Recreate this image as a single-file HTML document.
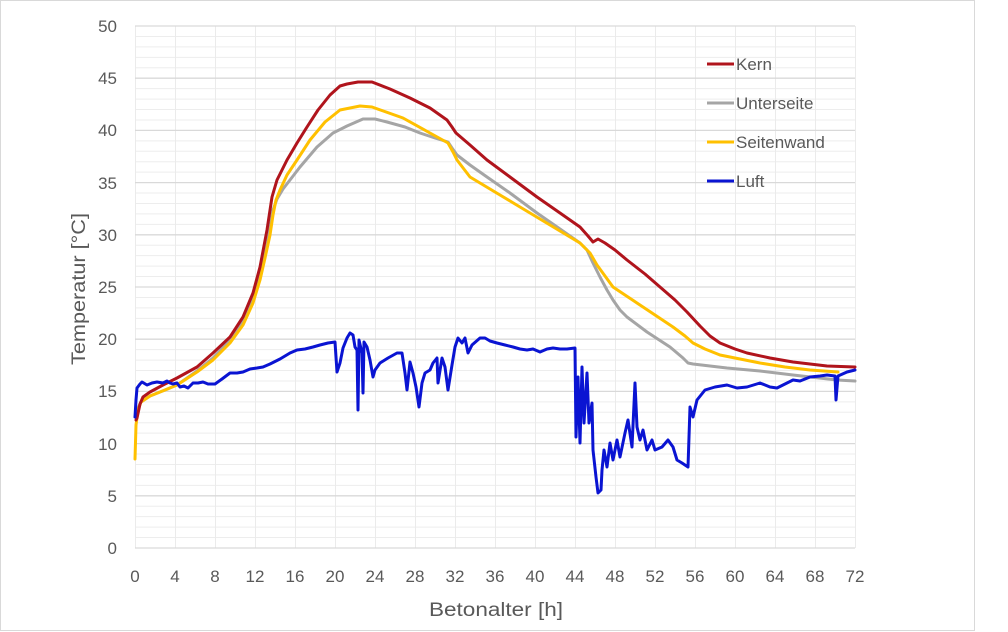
<!DOCTYPE html>
<html>
<head>
<meta charset="utf-8">
<style>
html,body{margin:0;padding:0;background:#fff;}
svg{display:block;}
text{font-family:"Liberation Sans",sans-serif;fill:#595959;}
</style>
</head>
<body>
<svg width="1008" height="632" viewBox="0 0 1008 632" xmlns="http://www.w3.org/2000/svg">
<rect x="0" y="0" width="1008" height="632" fill="#fff"/>
<rect x="0.5" y="0.5" width="974" height="630" fill="#fff" stroke="#D9D9D9" stroke-width="1"/>

<!-- minor horizontal gridlines -->
<g stroke="#EDEDED" stroke-width="1">
<line x1="135" x2="855" y1="537.56" y2="537.56"/><line x1="135" x2="855" y1="527.12" y2="527.12"/><line x1="135" x2="855" y1="516.68" y2="516.68"/><line x1="135" x2="855" y1="506.24" y2="506.24"/>
<line x1="135" x2="855" y1="485.36" y2="485.36"/><line x1="135" x2="855" y1="474.92" y2="474.92"/><line x1="135" x2="855" y1="464.48" y2="464.48"/><line x1="135" x2="855" y1="454.04" y2="454.04"/>
<line x1="135" x2="855" y1="433.16" y2="433.16"/><line x1="135" x2="855" y1="422.72" y2="422.72"/><line x1="135" x2="855" y1="412.28" y2="412.28"/><line x1="135" x2="855" y1="401.84" y2="401.84"/>
<line x1="135" x2="855" y1="380.96" y2="380.96"/><line x1="135" x2="855" y1="370.52" y2="370.52"/><line x1="135" x2="855" y1="360.08" y2="360.08"/><line x1="135" x2="855" y1="349.64" y2="349.64"/>
<line x1="135" x2="855" y1="328.76" y2="328.76"/><line x1="135" x2="855" y1="318.32" y2="318.32"/><line x1="135" x2="855" y1="307.88" y2="307.88"/><line x1="135" x2="855" y1="297.44" y2="297.44"/>
<line x1="135" x2="855" y1="276.56" y2="276.56"/><line x1="135" x2="855" y1="266.12" y2="266.12"/><line x1="135" x2="855" y1="255.68" y2="255.68"/><line x1="135" x2="855" y1="245.24" y2="245.24"/>
<line x1="135" x2="855" y1="224.36" y2="224.36"/><line x1="135" x2="855" y1="213.92" y2="213.92"/><line x1="135" x2="855" y1="203.48" y2="203.48"/><line x1="135" x2="855" y1="193.04" y2="193.04"/>
<line x1="135" x2="855" y1="172.16" y2="172.16"/><line x1="135" x2="855" y1="161.72" y2="161.72"/><line x1="135" x2="855" y1="151.28" y2="151.28"/><line x1="135" x2="855" y1="140.84" y2="140.84"/>
<line x1="135" x2="855" y1="119.96" y2="119.96"/><line x1="135" x2="855" y1="109.52" y2="109.52"/><line x1="135" x2="855" y1="99.08" y2="99.08"/><line x1="135" x2="855" y1="88.64" y2="88.64"/>
<line x1="135" x2="855" y1="67.76" y2="67.76"/><line x1="135" x2="855" y1="57.32" y2="57.32"/><line x1="135" x2="855" y1="46.88" y2="46.88"/><line x1="135" x2="855" y1="36.44" y2="36.44"/>
</g>
<!-- vertical gridlines -->
<g stroke="#EBEBEB" stroke-width="1">
<line x1="135.5" x2="135.5" y1="26" y2="548"/><line x1="175.5" x2="175.5" y1="26" y2="548"/><line x1="215.5" x2="215.5" y1="26" y2="548"/><line x1="255.5" x2="255.5" y1="26" y2="548"/>
<line x1="295.5" x2="295.5" y1="26" y2="548"/><line x1="335.5" x2="335.5" y1="26" y2="548"/><line x1="375.5" x2="375.5" y1="26" y2="548"/><line x1="415.5" x2="415.5" y1="26" y2="548"/>
<line x1="455.5" x2="455.5" y1="26" y2="548"/><line x1="495.5" x2="495.5" y1="26" y2="548"/><line x1="535.5" x2="535.5" y1="26" y2="548"/><line x1="575.5" x2="575.5" y1="26" y2="548"/>
<line x1="615.5" x2="615.5" y1="26" y2="548"/><line x1="655.5" x2="655.5" y1="26" y2="548"/><line x1="695.5" x2="695.5" y1="26" y2="548"/><line x1="735.5" x2="735.5" y1="26" y2="548"/>
<line x1="775.5" x2="775.5" y1="26" y2="548"/><line x1="815.5" x2="815.5" y1="26" y2="548"/><line x1="855.5" x2="855.5" y1="26" y2="548"/>
</g>
<!-- major horizontal gridlines -->
<g stroke="#D9D9D9" stroke-width="1.3">
<line x1="135" x2="855" y1="548" y2="548"/><line x1="135" x2="855" y1="495.8" y2="495.8"/><line x1="135" x2="855" y1="443.6" y2="443.6"/><line x1="135" x2="855" y1="391.4" y2="391.4"/>
<line x1="135" x2="855" y1="339.2" y2="339.2"/><line x1="135" x2="855" y1="287" y2="287"/><line x1="135" x2="855" y1="234.8" y2="234.8"/><line x1="135" x2="855" y1="182.6" y2="182.6"/>
<line x1="135" x2="855" y1="130.4" y2="130.4"/><line x1="135" x2="855" y1="78.2" y2="78.2"/><line x1="135" x2="855" y1="26" y2="26"/>
</g>

<!-- y tick labels -->
<g font-size="17" text-anchor="end">
<text x="117" y="554">0</text><text x="117" y="502">5</text><text x="117" y="450">10</text><text x="117" y="397">15</text>
<text x="117" y="345">20</text><text x="117" y="293">25</text><text x="117" y="241">30</text><text x="117" y="189">35</text>
<text x="117" y="136">40</text><text x="117" y="84">45</text><text x="117" y="32">50</text>
</g>
<!-- x tick labels -->
<g font-size="17" text-anchor="middle">
<text x="135" y="582">0</text><text x="175" y="582">4</text><text x="215" y="582">8</text><text x="255" y="582">12</text>
<text x="295" y="582">16</text><text x="335" y="582">20</text><text x="375" y="582">24</text><text x="415" y="582">28</text>
<text x="455" y="582">32</text><text x="495" y="582">36</text><text x="535" y="582">40</text><text x="575" y="582">44</text>
<text x="615" y="582">48</text><text x="655" y="582">52</text><text x="695" y="582">56</text><text x="735" y="582">60</text>
<text x="775" y="582">64</text><text x="815" y="582">68</text><text x="855" y="582">72</text>
</g>

<text x="429" y="616" font-size="19" textLength="134" lengthAdjust="spacingAndGlyphs">Betonalter [h]</text>
<text transform="translate(85,365) rotate(-90)" font-size="19" textLength="152" lengthAdjust="spacingAndGlyphs">Temperatur [°C]</text>

<!-- series -->
<g fill="none" stroke-width="3" stroke-linejoin="round" stroke-linecap="round">
<polyline stroke="#A5A5A5" points="136,415 138,408 141,402 150,396 165,390 177,385 197,371 213,358 230,340 243,322 253,300 260,277 265,255 269,235 273,210 277,199 283,189 290,180 300,167 317,147 333,133 347,126 363,119 375,119 387,122 405,127 420,133 435,138 448,142 452,148 457,155 470,165 487,177 510,193 537,213 560,229 580,243 587,250 593,263 600,277 607,290 613,300 620,310 627,317 647,332 670,347 683,358 688,363 693,364 727,368 760,371 793,375 837,380 855,381"/>
<polyline stroke="#FFC000" points="135,459 136,425 138,410 141,402 150,396 165,390 177,385 197,372 213,360 230,343 243,325 253,303 260,280 265,258 270,235 273,215 276,200 280,190 287,175 297,160 310,140 325,122 340,110 360,106 372,107 403,118 430,133 448,143 453,152 457,160 470,177 495,192 520,207 550,225 580,243 590,253 597,265 605,276 613,287 628,297 643,307 658,317 673,327 685,336 693,343 705,349 720,355 740,359 760,363 785,367 810,370 838,372"/>
<polyline stroke="#B0141C" points="136,420 137,418 140,404 143,397 150,392 163,385 177,378 197,367 213,353 230,337 243,317 253,293 260,267 267,230 272,197 277,180 287,160 297,143 307,127 318,110 330,95 340,86 347,84 358,82 372,82 390,89 410,98 430,108 447,120 452,127 456,133 470,145 487,160 510,177 537,197 560,213 580,227 588,236 593,242 598,239 605,243 615,250 627,260 645,274 660,287 675,300 687,312 700,326 710,336 720,343 735,349 747,353 770,358 793,362 827,366 855,367"/>
<polyline stroke="#0A14D2" points="135,417 136,400 137,388 140,384 142,382 147,385 152,383 157,382 163,383 167,381 170,383 173,384 177,383 180,387 184,386 188,388 193,383 198,383 203,382 208,384 215,384 222,379 230,373 237,373 243,372 250,369 257,368 263,367 270,364 280,359 290,353 297,350 305,349 313,347 320,345 328,343 335,342 337,372 340,363 343,348 347,338 350,333 353,335 355,347 357,350 358,410 359,340 362,353 363,393 364,342 367,347 370,360 373,377 375,370 380,363 388,358 397,353 402,353 405,373 407,390 410,362 413,373 416,387 419,407 422,383 425,373 430,370 433,363 437,358 438,383 442,358 445,367 448,390 452,365 455,347 458,338 462,343 465,338 468,353 472,345 480,338 485,338 490,341 497,343 505,345 513,347 520,349 527,350 533,349 540,352 547,349 553,348 560,349 567,349 575,348 576,437 578,377 580,443 582,367 584,423 587,373 589,423 592,403 593,450 596,477 598,493 601,490 602,470 604,450 607,467 610,443 613,460 617,440 620,457 625,433 628,420 632,447 635,383 637,427 640,440 643,430 647,450 652,440 655,450 662,447 668,440 673,447 677,460 682,463 688,467 690,407 693,417 697,400 705,390 715,387 727,385 737,388 747,387 760,383 770,387 777,388 785,384 793,380 800,381 810,377 820,376 827,375 835,376 836,400 838,376 847,372 855,370"/>
</g>

<!-- legend -->
<g stroke-width="3">
<line x1="707" x2="734" y1="64" y2="64" stroke="#B0141C"/>
<line x1="707" x2="734" y1="103" y2="103" stroke="#A5A5A5"/>
<line x1="707" x2="734" y1="142" y2="142" stroke="#FFC000"/>
<line x1="707" x2="734" y1="181" y2="181" stroke="#0A14D2"/>
</g>
<g font-size="17">
<text x="736" y="70">Kern</text>
<text x="736" y="109">Unterseite</text>
<text x="736" y="148">Seitenwand</text>
<text x="736" y="187">Luft</text>
</g>
</svg>
</body>
</html>
